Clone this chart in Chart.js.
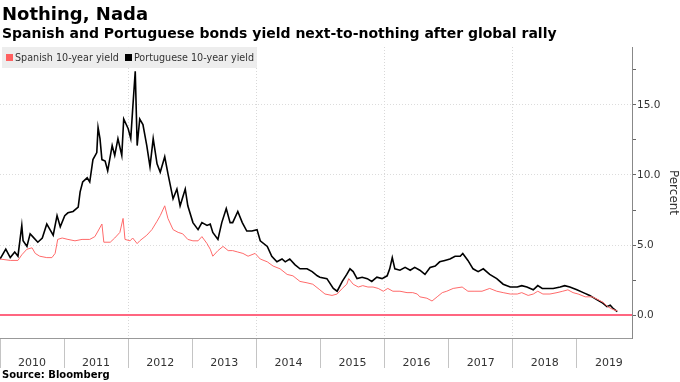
<!DOCTYPE html>
<html><head>
<meta charset="UTF-8">
<title>Nothing, Nada</title>
<style>
  body {
    margin: 0;
    width: 680px;
    height: 382px;
    overflow: hidden;
    background: #fff;
    font-family: 'DejaVu Sans', sans-serif;
    position: relative;
  }
  #chart { position: absolute; left: 0; top: 0; }
  .title {
    position: absolute; left: 2px; top: 3px;
    font-size: 18px; font-weight: bold; color: #000;
  }
  .subtitle {
    position: absolute; left: 2px; top: 25px;
    font-size: 14px; font-weight: bold; color: #000;
  }
  .legend {
    position: absolute; left: 2px; top: 47px; height: 21px;
    background: rgba(236,236,236,0.92);
    display: flex; align-items: center;
    font-size: 9.6px; color: #333; padding: 0 3px 0 4px;
  }
  .legend span.item { display: flex; align-items: center; margin-right: 6px; }
  .legend span.item:last-child { margin-right: 0; }
  .sw { display: inline-block; width: 7px; height: 7px; margin-right: 2px; }
  .source {
    position: absolute; left: 2px; top: 369px;
    font-size: 10px; font-weight: bold; color: #000;
  }
</style>
<script src="https://cdn.jsdelivr.net/npm/chart.js"></script>
</head>
<body>
  <canvas id="chart" width="680" height="382"></canvas>
  <div class="title">Nothing, Nada</div>
  <div class="subtitle">Spanish and Portuguese bonds yield next-to-nothing after global rally</div>
  <div class="legend">
    <span class="item"><span class="sw" style="background:#ff6060"></span>Spanish 10-year yield</span>
    <span class="item"><span class="sw" style="background:#000"></span>Portuguese 10-year yield</span>
  </div>
  <div class="source">Source: Bloomberg</div>

  <script>
    // dates as decimal years, values in percent
    var portugalDates = [
      2010.00, 2010.09, 2010.16, 2010.23, 2010.28, 2010.34, 2010.36, 2010.42, 2010.47, 2010.51,
      2010.59, 2010.66, 2010.73, 2010.78, 2010.83, 2010.89, 2010.94, 2011.01, 2011.06, 2011.14,
      2011.22, 2011.25, 2011.29, 2011.36, 2011.40, 2011.45, 2011.51, 2011.53, 2011.56, 2011.59,
      2011.64, 2011.68, 2011.75, 2011.79, 2011.84, 2011.90, 2011.93, 2012.00, 2012.04, 2012.07,
      2012.11, 2012.14, 2012.18, 2012.23, 2012.29, 2012.34, 2012.39, 2012.45, 2012.50, 2012.57,
      2012.62, 2012.70, 2012.76, 2012.81, 2012.89, 2012.93, 2013.01, 2013.09, 2013.15, 2013.23,
      2013.28, 2013.32, 2013.40, 2013.46, 2013.53, 2013.59, 2013.63, 2013.71, 2013.78, 2013.85,
      2013.93, 2014.01, 2014.06, 2014.17, 2014.24, 2014.32, 2014.40, 2014.45, 2014.52, 2014.60,
      2014.68, 2014.79, 2014.87, 2014.95, 2014.99, 2015.10, 2015.20, 2015.26, 2015.34, 2015.41,
      2015.46, 2015.51, 2015.57, 2015.65, 2015.73, 2015.80, 2015.88, 2015.96, 2016.04, 2016.08,
      2016.12, 2016.16, 2016.24, 2016.32, 2016.40, 2016.47, 2016.55, 2016.63, 2016.71, 2016.79,
      2016.86, 2016.94, 2017.02, 2017.10, 2017.18, 2017.22, 2017.30, 2017.38, 2017.46, 2017.54,
      2017.64, 2017.75, 2017.85, 2017.96, 2018.07, 2018.14, 2018.22, 2018.32, 2018.39, 2018.46,
      2018.53, 2018.63, 2018.74, 2018.81, 2018.89, 2019.00, 2019.10, 2019.20, 2019.31, 2019.39,
      2019.47, 2019.52, 2019.56, 2019.63
    ];
    var portugalYield = [
      4.0, 4.7, 4.1, 4.5, 4.2, 6.4, 5.3, 4.9, 5.8, 5.6,
      5.2, 5.5, 6.5, 6.1, 5.7, 7.1, 6.3, 7.1, 7.3, 7.4,
      7.7, 8.8, 9.5, 9.8, 9.5, 11.1, 11.6, 13.4, 12.6, 11.1,
      11.0, 10.3, 12.1, 11.4, 12.6, 11.4, 14.0, 13.3, 12.6, 14.7,
      17.4, 12.1, 14.0, 13.6, 12.1, 10.6, 12.6, 10.8, 10.2, 11.3,
      10.1, 8.3, 9.0, 7.8, 9.0, 7.8, 6.6, 6.1, 6.6, 6.4,
      6.5, 5.9, 5.4, 6.6, 7.6, 6.6, 6.6, 7.4, 6.6, 6.0,
      6.0, 6.1, 5.3, 4.9, 4.2, 3.8, 4.0, 3.8, 4.0, 3.6,
      3.3, 3.3, 3.1, 2.8, 2.7, 2.6, 1.9, 1.7, 2.4, 2.9,
      3.3, 3.1, 2.6, 2.7, 2.6, 2.4, 2.7, 2.6, 2.8, 3.3,
      4.1, 3.3, 3.2, 3.4, 3.2, 3.4, 3.2, 2.9, 3.4, 3.5,
      3.8, 3.9, 4.0, 4.2, 4.2, 4.4, 3.9, 3.3, 3.1, 3.3,
      2.9, 2.6, 2.2, 2.0, 2.0, 2.1, 2.0, 1.8, 2.1, 1.9,
      1.9, 1.9, 2.0, 2.1, 2.0, 1.8, 1.6, 1.4, 1.1, 0.9,
      0.6, 0.7, 0.5, 0.25
    ];
    var spainDates = [
      2010.00, 2010.16, 2010.28, 2010.34, 2010.42, 2010.50, 2010.55, 2010.62, 2010.73, 2010.81,
      2010.86, 2010.90, 2010.97, 2011.06, 2011.17, 2011.28, 2011.40, 2011.48, 2011.53, 2011.59,
      2011.62, 2011.72, 2011.79, 2011.87, 2011.92, 2011.95, 2012.03, 2012.07, 2012.14, 2012.18,
      2012.29, 2012.37, 2012.45, 2012.50, 2012.57, 2012.62, 2012.70, 2012.78, 2012.85, 2012.93,
      2013.01, 2013.09, 2013.15, 2013.23, 2013.28, 2013.32, 2013.40, 2013.48, 2013.56, 2013.63,
      2013.71, 2013.79, 2013.87, 2013.98, 2014.06, 2014.17, 2014.26, 2014.37, 2014.48, 2014.57,
      2014.68, 2014.79, 2014.88, 2014.99, 2015.07, 2015.18, 2015.26, 2015.34, 2015.41, 2015.44,
      2015.51, 2015.59, 2015.66, 2015.74, 2015.82, 2015.90, 2015.98, 2016.05, 2016.13, 2016.24,
      2016.35, 2016.44, 2016.51, 2016.55, 2016.66, 2016.74, 2016.82, 2016.90, 2016.97, 2017.07,
      2017.21, 2017.30, 2017.41, 2017.52, 2017.64, 2017.75, 2017.85, 2017.96, 2018.07, 2018.14,
      2018.24, 2018.32, 2018.39, 2018.47, 2018.58, 2018.69, 2018.78, 2018.86, 2018.94, 2019.02,
      2019.13, 2019.24, 2019.33, 2019.41, 2019.48, 2019.56, 2019.63
    ];
    var spainYield = [
      4.0, 3.9, 3.9, 4.3, 4.7, 4.8, 4.4, 4.2, 4.1, 4.1,
      4.4, 5.4, 5.5, 5.4, 5.3, 5.4, 5.4, 5.6, 6.0, 6.5,
      5.2, 5.2, 5.5, 5.9, 6.9, 5.4, 5.3, 5.5, 5.1, 5.3,
      5.7, 6.1, 6.7, 7.1, 7.8, 6.9, 6.1, 5.9, 5.8, 5.4,
      5.3, 5.3, 5.6, 5.1, 4.7, 4.2, 4.6, 4.9, 4.6, 4.6,
      4.5, 4.4, 4.2, 4.4, 4.0, 3.8, 3.5, 3.3, 2.9, 2.8,
      2.4, 2.3, 2.2, 1.8, 1.5, 1.4, 1.5, 1.9, 2.2, 2.6,
      2.2, 2.0, 2.1, 2.0, 2.0, 1.9, 1.7, 1.9, 1.7, 1.7,
      1.6, 1.6, 1.5, 1.3, 1.2, 1.0, 1.3, 1.6, 1.7, 1.9,
      2.0, 1.7, 1.7, 1.7, 1.9, 1.7, 1.6, 1.5, 1.5, 1.6,
      1.4, 1.5, 1.7, 1.5, 1.5, 1.6, 1.7, 1.8, 1.6, 1.5,
      1.3, 1.3, 1.1, 0.9, 0.6, 0.4, 0.3
    ];
    var yearTicks = [2010, 2011, 2012, 2013, 2014, 2015, 2016, 2017, 2018, 2019];
    var yTicks = [0, 2.5, 5, 7.5, 10, 12.5, 15, 17.5];
    var xMin = 2010, xMax = 2019.86;
    var yMin = -1.64, yMax = 19.14;

    function toPoints(xs, ys) {
      return xs.map(function (x, i) { return { x: x, y: ys[i] }; });
    }

    // solid axis lines (border.dash would make them dotted like the grid)
    var axisLines = {
      id: 'axisLines',
      afterDraw: function (chart) {
        var a = chart.chartArea, c = chart.ctx;
        c.save();
        c.lineWidth = 1;
        c.strokeStyle = '#999';
        c.beginPath();
        c.moveTo(0, Math.round(a.bottom) + 0.5);
        c.lineTo(a.right, Math.round(a.bottom) + 0.5);
        c.stroke();
        c.strokeStyle = '#888';
        c.beginPath();
        c.moveTo(Math.round(a.right) + 0.5, a.top);
        c.lineTo(Math.round(a.right) + 0.5, a.bottom + 1);
        c.stroke();
        c.restore();
      }
    };

    var ctx = document.getElementById('chart').getContext('2d');
    var chart = new Chart(ctx, {
      type: 'line',
      data: {
        datasets: [{
          label: 'Zero',
          data: toPoints([xMin, xMax], [0, 0]),
          borderColor: '#ff6680',
          borderWidth: 2,
          pointRadius: 0
        }, {
          label: 'Spanish 10-year yield',
          data: toPoints(spainDates, spainYield),
          borderColor: '#ff6a6a',
          borderWidth: 1,
          pointRadius: 0,
          tension: 0
        }, {
          label: 'Portuguese 10-year yield',
          data: toPoints(portugalDates, portugalYield),
          borderColor: '#000000',
          borderWidth: 1.6,
          pointRadius: 0,
          tension: 0
        }]
      },
      options: {
        responsive: false,
        animation: false,
        layout: { padding: { top: 47, left: 0, right: 0, bottom: 0 } },
        plugins: {
          legend: { display: false },
          tooltip: { enabled: false }
        },
        scales: {
          x: {
            type: 'linear',
            min: xMin,
            max: xMax,
            afterBuildTicks: function (scale) {
              scale.ticks = yearTicks.map(function (v) { return { value: v }; });
            },
            afterFit: function (scale) {
              scale.height = 44;
              scale.paddingLeft = 0;
              scale.paddingRight = 0;
            },
            ticks: {
              callback: function (v) { return String(v); },
              labelOffset: 32,
              maxRotation: 0,
              autoSkip: false,
              padding: -11,
              color: '#333',
              font: { family: 'DejaVu Sans', size: 11 }
            },
            grid: {
              color: function (c) {
                var v = c.tick ? c.tick.value : 0;
                return (v % 2 === 0 && v !== 2010) ? '#d8d8d8' : 'rgba(0,0,0,0)';
              },
              borderDash: [1, 2],
              tickColor: '#c4c4c4',
              tickLength: 30,
              tickBorderDash: [],
              lineWidth: 1
            },
            border: { display: false, dash: [1, 2] }
          },
          y: {
            position: 'right',
            min: yMin,
            max: yMax,
            afterBuildTicks: function (scale) {
              scale.ticks = yTicks.map(function (v) { return { value: v }; });
            },
            afterFit: function (scale) { scale.width = 48; },
            ticks: {
              callback: function (v) { return v % 5 === 0 ? v.toFixed(1) : ''; },
              padding: 1,
              color: '#333',
              font: { family: 'DejaVu Sans', size: 10.5 }
            },
            grid: {
              color: function (c) {
                var v = c.tick ? c.tick.value : 1;
                return (v % 5 === 0 && v !== 0) ? '#dcdcdc' : 'rgba(0,0,0,0)';
              },
              borderDash: [1, 2],
              tickColor: '#666',
              tickLength: 4,
              tickBorderDash: []
            },
            border: { display: false, dash: [1, 2] },
            title: {
              display: true,
              text: 'Percent',
              color: '#333',
              font: { family: 'DejaVu Sans', size: 12 },
              padding: 0
            }
          }
        }
      },
      plugins: [axisLines]
    });
  </script>
</body>
</html>
